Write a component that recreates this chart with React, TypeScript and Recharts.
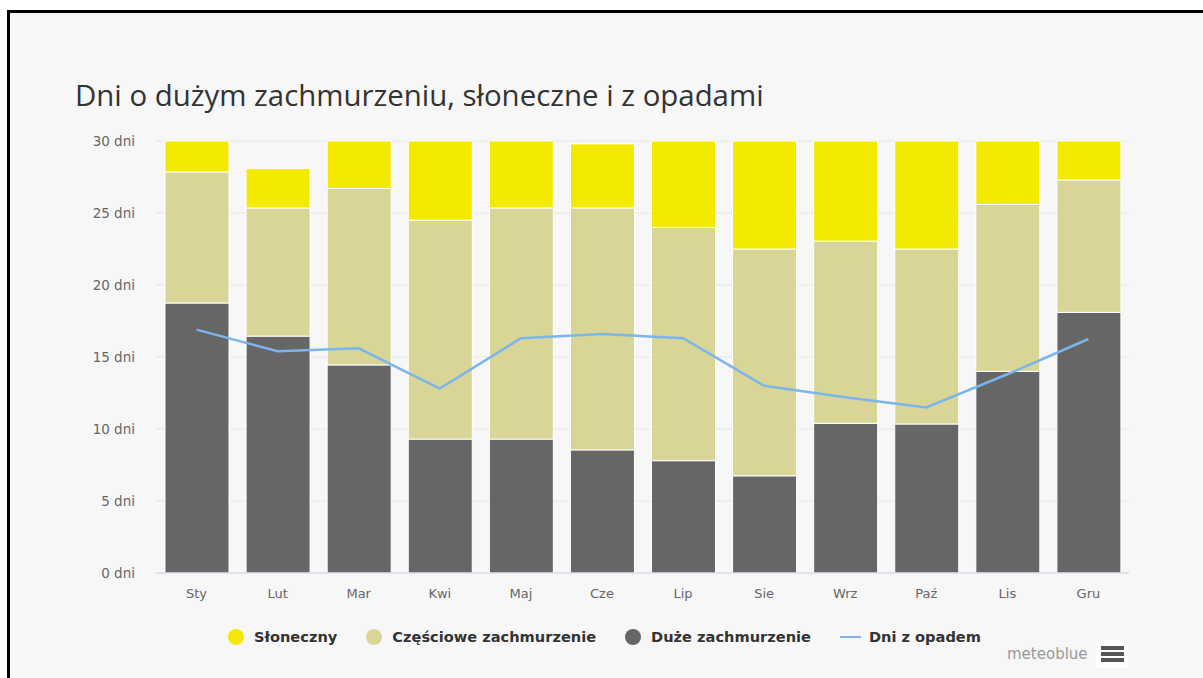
import React from 'react'
import {Bar, CartesianGrid, ComposedChart, Line, XAxis, YAxis} from 'recharts'

// dane (dni w miesiącu)
const months = ['Sty', 'Lut', 'Mar', 'Kwi', 'Maj', 'Cze', 'Lip', 'Sie', 'Wrz', 'Paź', 'Lis', 'Gru']
const overcast = [18.75, 16.45, 14.45, 9.3, 9.3, 8.55, 7.8, 6.75, 10.4, 10.35, 14.0, 18.1]
const partlyCloudy = [9.1, 8.9, 12.25, 15.2, 16.05, 16.8, 16.2, 15.75, 12.65, 12.15, 11.6, 9.2]
const sunny = [2.15, 2.75, 3.3, 5.5, 4.65, 4.45, 6.0, 7.5, 6.95, 7.5, 4.4, 2.7]
const precipitation = [16.9, 15.4, 15.6, 12.8, 16.3, 16.6, 16.3, 13.0, 12.2, 11.5, 13.8, 16.25]
const yTicks = [0, 5, 10, 15, 20, 25, 30]

const series = [
    {key: 'sunny', name: 'Słoneczny', color: '#f4e900', type: 'circle'},
    {key: 'partlyCloudy', name: 'Częściowe zachmurzenie', color: '#d8d596', type: 'circle'},
    {key: 'overcast', name: 'Duże zachmurzenie', color: '#666666', type: 'circle'},
    {key: 'precipitation', name: 'Dni z opadem', color: '#7cb5ec', type: 'line'},
]

const data = months.map((month, i) => ({
    month,
    overcast: overcast[i],
    partlyCloudy: partlyCloudy[i],
    sunny: sunny[i],
    precipitation: precipitation[i],
}))

const titleFont = '"Open Sans", "DejaVu Sans", sans-serif'
const font = '"DejaVu Sans", Verdana, sans-serif'

const LegendContent = () => (
    <div style={{display: 'flex', alignItems: 'center', gap: 29, fontFamily: font}}>
        {series.map(s => (
            <div key={s.key} style={{display: 'flex', alignItems: 'center'}}>
                {s.type === 'circle'
                    ? <span style={{width: 16, height: 16, borderRadius: 8, background: s.color, marginRight: 10}}/>
                    : <span style={{width: 21, height: 2, background: s.color, marginRight: 8}}/>}
                <span style={{fontSize: 14.6, fontWeight: 700, color: '#333', lineHeight: '20px'}}>{s.name}</span>
            </div>
        ))}
    </div>
)

const App = () => {
    return (
        <div style={{position: 'absolute', left: 0, top: 0, width: 1203, height: 678, background: '#fff', overflow: 'hidden'}}>
            <div style={{
                position: 'absolute', left: 7, top: 10, width: 1300, height: 700,
                borderLeft: '3px solid #000', borderTop: '3px solid #000', background: '#f7f7f7',
            }}/>
            <div style={{
                position: 'absolute', left: 75, top: 75, fontFamily: titleFont, fontSize: 29.4,
                color: '#333', whiteSpace: 'nowrap',
            }}>
                Dni o dużym zachmurzeniu, słoneczne i z opadami
            </div>
            <div style={{position: 'absolute', left: 0, top: 0}}>
                <ComposedChart
                    width={1203}
                    height={678}
                    data={data}
                    margin={{top: 141, right: 74, left: 96, bottom: 75}}
                >
                    <CartesianGrid vertical={false} stroke='#e6e6e6'/>
                    <XAxis
                        dataKey='month'
                        axisLine={{stroke: '#ccd6eb'}}
                        tickLine={false}
                        tickSize={0}
                        tickMargin={16}
                        height={30}
                        tick={{fill: '#666', fontSize: 13, fontFamily: font}}
                    />
                    <YAxis
                        domain={[0, 30]}
                        ticks={yTicks}
                        axisLine={false}
                        tickLine={false}
                        tickSize={0}
                        tickMargin={21}
                        width={60}
                        tickFormatter={(v: number) => `${v} dni`}
                        tick={{fill: '#666', fontSize: 13.5, fontFamily: font}}
                    />
                    <Bar dataKey='overcast' name='Duże zachmurzenie' stackId='a' fill='#666666'
                         stroke='#ffffff' strokeWidth={1} barSize={64} isAnimationActive={false}/>
                    <Bar dataKey='partlyCloudy' name='Częściowe zachmurzenie' stackId='a' fill='#d8d596'
                         stroke='#ffffff' strokeWidth={1} barSize={64} isAnimationActive={false}/>
                    <Bar dataKey='sunny' name='Słoneczny' stackId='a' fill='#f4e900'
                         stroke='#ffffff' strokeWidth={1} barSize={64} isAnimationActive={false}/>
                    <Line dataKey='precipitation' name='Dni z opadem' type='linear' stroke='#7cb5ec'
                          strokeWidth={2.5} dot={false} activeDot={false} isAnimationActive={false}/>
                </ComposedChart>
            </div>
            <div style={{position: 'absolute', left: 228, top: 627}}>
                <LegendContent/>
            </div>
            <div style={{position: 'absolute', left: 1007, top: 645, fontFamily: font, fontSize: 15, color: '#999'}}>
                meteoblue
            </div>
            <div style={{
                position: 'absolute', left: 1096, top: 640, width: 32, height: 28, background: '#fff',
                borderRadius: 2, display: 'flex', flexDirection: 'column', justifyContent: 'center', alignItems: 'center', gap: 2,
            }}>
                <span style={{width: 23, height: 4, background: '#555'}}/>
                <span style={{width: 23, height: 4, background: '#555'}}/>
                <span style={{width: 23, height: 4, background: '#555'}}/>
            </div>
        </div>
    )
}

export default App
